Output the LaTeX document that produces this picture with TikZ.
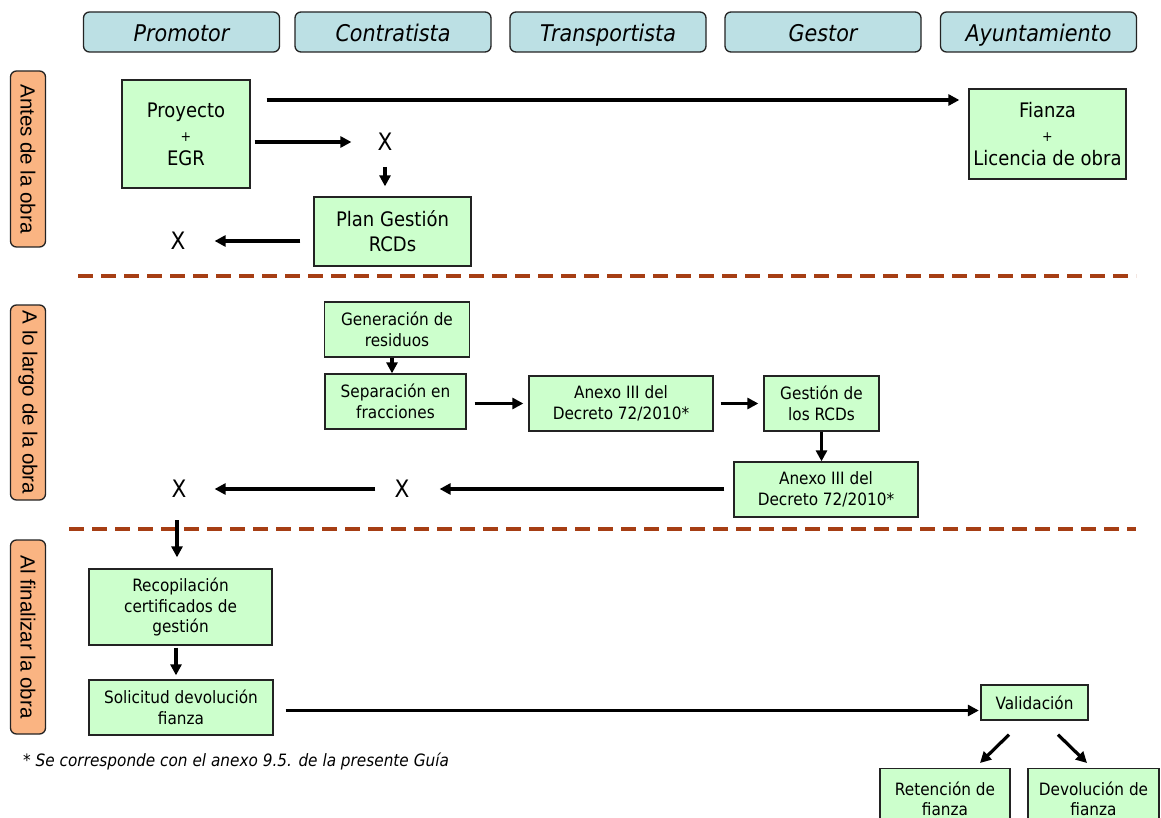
\documentclass[tikz,border=0pt]{standalone}
\usepackage{fontspec}
\setmainfont[FakeStretch=0.9]{DejaVu Sans}
\newfontfamily\phasefont{Liberation Sans}
\usetikzlibrary{arrows.meta}

\definecolor{hdrfill}{RGB}{188,224,228}
\definecolor{boxfill}{RGB}{204,255,204}
\definecolor{phasefill}{RGB}{250,180,130}
\definecolor{sepline}{RGB}{166,62,20}
\definecolor{edge}{RGB}{35,35,35}

\begin{document}
\begin{tikzpicture}[x=1pt,y=-1pt,
  hdr/.style={draw=edge, line width=1.3pt, fill=hdrfill, rounded corners=6pt,
    minimum width=196pt, minimum height=40pt, inner sep=0pt,
    text height=19pt, text depth=0pt,
    font=\fontsize{23}{27}\selectfont\itshape},
  phase/.style={draw=edge, line width=1.3pt, fill=phasefill, rounded corners=6pt,
    rotate=-90, minimum height=35pt, inner sep=0pt,
    font=\phasefont\fontsize{20.5}{24}\selectfont},
  bigbox/.style={draw=edge, line width=1.3pt, fill=boxfill, inner sep=0pt,
    align=center, font=\fontsize{20}{24}\selectfont},
  smallbox/.style={draw=edge, line width=1.3pt, fill=boxfill, inner sep=0pt,
    align=center, font=\fontsize{17}{20.5}\selectfont},
  cross/.style={inner sep=0pt, text depth=0pt, font=\fontsize{24}{24}\selectfont},
  arr/.style={line width=3.2pt, -{Triangle[length=11pt,width=11pt]}},
  sep/.style={sepline, line width=4pt, dash pattern=on 15pt off 8pt}
]
\useasboundingbox (0,0) rectangle (1161,818);
\clip (0,0) rectangle (1161,818);
\fill[white] (0,0) rectangle (1161,818);

% column headers
\node[hdr] (h1) at (181.5,32) {Promotor};
\node[hdr] (h2) at (393,32) {Contratista};
\node[hdr] (h3) at (608,32) {Transportista};
\node[hdr] (h4) at (823,32) {Gestor};
\node[hdr] (h5) at (1038.5,32) {Ayuntamiento};

% phase labels
\node[phase, minimum width=176pt] (p1) at (28,159) {Antes de la obra};
\node[phase, minimum width=195pt] (p2) at (28,402.5) {A lo largo de la obra};
\node[phase, minimum width=194pt] (p3) at (28,637) {Al finalizar la obra};

% phase separators
\draw[sep] (78,276) -- (1136,276);
\draw[sep] (69,529) -- (1136,529);

% before the works
\node[bigbox, minimum width=128pt, minimum height=108pt] (proy) at (186,134)
  {Proyecto\\{\fontsize{14}{24}\selectfont +}\\EGR};
\node[bigbox, minimum width=157pt, minimum height=90pt] (fianza) at (1047.5,134)
  {Fianza\\{\fontsize{14}{24}\selectfont +}\\Licencia de obra};
\node[cross] (x1) at (385,142) {X};
\node[bigbox, minimum width=157pt, minimum height=69pt, font=\fontsize{20}{25}\selectfont] (plan) at (392.5,231.5)
  {Plan Gestión\\RCDs};
\node[cross] (x2) at (178,241) {X};

\draw[arr, shorten <=16pt, shorten >=9pt] ([yshift=34pt]proy.east) -- ([yshift=34pt]proy.east -| fianza.west);
\draw[arr, shorten <=4pt, shorten >=26pt] (x1 -| proy.east) -- (x1);
\draw[arr, shorten <=16pt, shorten >=10pt] (x1) -- (x1 |- plan.north);
\draw[arr, shorten <=13pt, shorten >=29pt] (x2 -| plan.west) -- (x2);

% during the works
\node[smallbox, minimum width=145pt, minimum height=55pt] (gen) at (397,329.5)
  {Generación de\\residuos};
\node[smallbox, minimum width=141pt, minimum height=55pt] (sepf) at (395.5,401.5)
  {Separación en\\fracciones};
\node[smallbox, minimum width=184pt, minimum height=55pt] (anx1) at (621,403.5)
  {Anexo III del\\Decreto 72/2010*};
\node[smallbox, minimum width=115pt, minimum height=55pt] (gest) at (821.5,403.5)
  {Gestión de\\los RCDs};
\node[smallbox, minimum width=184pt, minimum height=55pt] (anx2) at (826,489.5)
  {Anexo III del\\Decreto 72/2010*};
\node[cross] (x4) at (402,489) {X};
\node[cross] (x3) at (179,489) {X};

\draw[arr] ([xshift=-5pt]gen.south) -- ([xshift=-5pt]gen.south |- sepf.north);
\draw[arr, shorten <=8pt, shorten >=5pt] ([yshift=-2pt]sepf.east) -- ([yshift=-2pt]sepf.east -| anx1.west);
\draw[arr, shorten <=7pt, shorten >=5pt] (anx1.east) -- (gest.west);
\draw[arr] (gest.south) -- (gest.south |- anx2.north);
\draw[arr, shorten <=9pt, shorten >=30pt] (x4 -| anx2.west) -- (x4);
\draw[arr, shorten <=19pt, shorten >=28pt] (x4) -- (x3);

% at the end of the works
\node[smallbox, minimum width=183pt, minimum height=76pt] (recop) at (180.5,607)
  {Recopilación\\certificados de\\gestión};
\node[smallbox, minimum width=184pt, minimum height=55pt] (solic) at (181,707.5)
  {Solicitud devolución\\fianza};
\node[smallbox, minimum width=107pt, minimum height=35pt] (valid) at (1034.5,702.5)
  {Validación};
\node[smallbox, minimum width=130pt, minimum height=60pt, anchor=north] (reten) at (945,768)
  {Retención de\\fianza};
\node[smallbox, minimum width=131pt, minimum height=60pt, anchor=north] (devol) at (1093.5,768)
  {Devolución de\\fianza};

\draw[arr, shorten <=31pt, shorten >=11pt] ([xshift=-2pt]x3.center) -- ([xshift=-2pt]x3.center |- recop.north);
\draw[arr, shorten <=2pt, shorten >=4pt] ([xshift=-4.5pt]recop.south) -- ([xshift=-4.5pt]recop.south |- solic.north);
\draw[arr, shorten <=12pt, shorten >=1.5pt] ([yshift=-3pt]solic.east) -- ([yshift=-3pt]solic.east -| valid.west);
\draw[arr] ([xshift=-25.5pt,yshift=-14pt]valid.south) -- ([xshift=35pt,yshift=5pt]reten.north);
\draw[arr] ([xshift=23.5pt,yshift=-14pt]valid.south) -- ([xshift=-6.5pt,yshift=5pt]devol.north);

% footnote
\node[anchor=west, inner sep=0pt, font=\fontsize{17}{20}\selectfont\itshape] (nota) at (23,761)
  {* Se corresponde con el anexo 9.5. de la presente Guía};
\end{tikzpicture}
\end{document}
